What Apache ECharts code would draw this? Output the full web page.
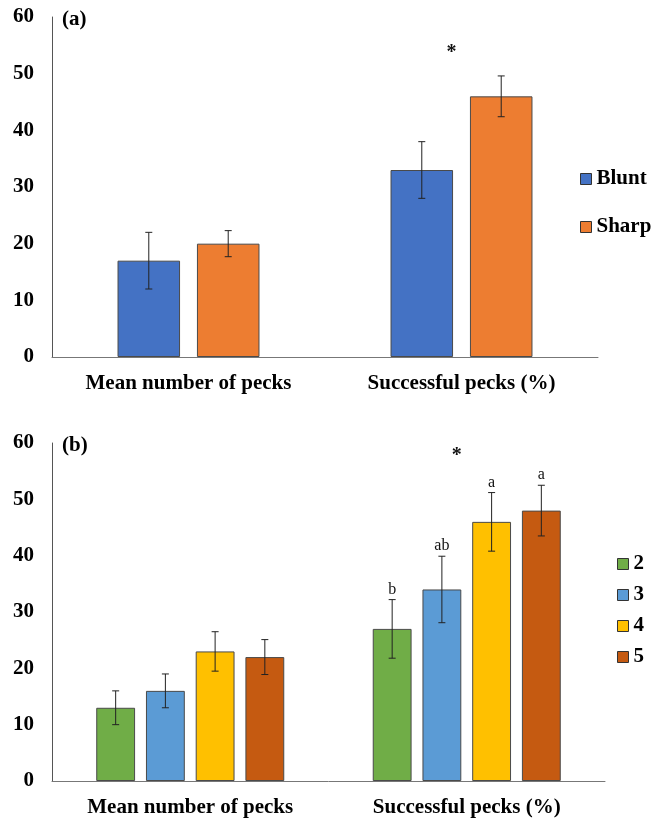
<!DOCTYPE html>
<html><head><meta charset="utf-8">
<script src="https://cdn.jsdelivr.net/npm/echarts@6/dist/echarts.min.js"></script>
<style>html,body{margin:0;padding:0;background:#fff}#c{width:653px;height:821px}</style>
</head><body><div id="c"></div>
<script>
const categories = ['Mean number of pecks', 'Successful pecks (%)'];
const yTicks = [0, 10, 20, 30, 40, 50, 60];
// Panel (a)
const bluntMean = [17, 33];
const bluntErr = [5, 5];
const sharpMean = [20, 46];
const sharpErr = [2.3, 3.6];
const starA = [[1, 54]];
// Panel (b)
const groupNames = ['2', '3', '4', '5'];
const g2Mean = [13, 27], g2Err = [3, 5.2];
const g3Mean = [16, 34], g3Err = [3, 5.9];
const g4Mean = [23, 46], g4Err = [3.5, 5.2];
const g5Mean = [22, 48], g5Err = [3.1, 4.5];
const g2Letters = ['', 'b'];
const g3Letters = ['', 'ab'];
const g4Letters = ['', 'a'];
const g5Letters = ['', 'a'];
const starB = [[1, 58]];

const FONT = '"Liberation Serif", "Times New Roman", serif';
const chart = echarts.init(document.getElementById('c'));

function errSeries(axisIdx, means, errs, k, n, gap, catGap, letters) {
  return {
    type: 'custom', xAxisIndex: axisIdx, yAxisIndex: axisIdx, z: 5, silent: true,
    data: means.map((m, i) => [i, m, errs[i]]),
    renderItem: function (params, api) {
      const ci = api.value(0), m = api.value(1), e = api.value(2);
      const band = api.size([1, 0])[0];
      const bw = band * (1 - catGap) / (n + (n - 1) * gap);
      const c = api.coord([ci, m]);
      const x = c[0] + (k - (n - 1) / 2) * bw * (1 + gap);
      const yT = api.coord([ci, m + e])[1];
      const yB = api.coord([ci, m - e])[1];
      const st = { stroke: '#222', lineWidth: 1 };
      const ch = [
        { type: 'line', shape: { x1: x, y1: yT, x2: x, y2: yB }, style: st },
        { type: 'line', shape: { x1: x - 3.5, y1: yT, x2: x + 3.5, y2: yT }, style: st },
        { type: 'line', shape: { x1: x - 3.5, y1: yB, x2: x + 3.5, y2: yB }, style: st }
      ];
      const lt = letters ? letters[params.dataIndex] : '';
      if (lt) {
        ch.push({ type: 'text', style: { x: x, y: yT - 2, text: lt, fill: '#111',
          font: '16px ' + FONT, align: 'center', verticalAlign: 'bottom' } });
      }
      return { type: 'group', children: ch };
    }
  };
}

function barSeries(name, axisIdx, data, color, gap, catGap) {
  return {
    name: name, type: 'bar', xAxisIndex: axisIdx, yAxisIndex: axisIdx,
    data: data, barGap: gap, barCategoryGap: catGap,
    itemStyle: { color: color, borderColor: '#4a4a4a', borderWidth: 1 }
  };
}

function starSeries(axisIdx, data) {
  return {
    type: 'custom', xAxisIndex: axisIdx, yAxisIndex: axisIdx, silent: true, z: 6, data: data,
    renderItem: function (params, api) {
      const p = api.coord([api.value(0), api.value(1)]);
      return { type: 'text', style: { x: p[0] - 10, y: p[1] + 2, text: '*', fill: '#111',
        font: 'bold 20px ' + FONT, align: 'center', verticalAlign: 'middle' } };
    }
  };
}

const yAx = (gi) => ({
  type: 'value', gridIndex: gi, min: 0, max: 60, interval: 10,
  axisLine: { show: true, lineStyle: { color: '#555', width: 1 } },
  axisTick: { show: false }, splitLine: { show: false },
  axisLabel: { color: '#000', fontFamily: FONT, fontSize: 21, fontWeight: 'bold', margin: 18,
    formatter: v => (yTicks.indexOf(v) >= 0 ? String(v) : '') }
});
const xAx = (gi) => ({
  type: 'category', gridIndex: gi, data: categories,
  axisLine: { show: true, lineStyle: { color: '#777', width: 1 } },
  axisTick: { show: false },
  axisLabel: { color: '#000', fontFamily: FONT, fontSize: 21, fontWeight: 'bold', margin: 16 }
});

const legendCommon = {
  orient: 'vertical', icon: 'rect', itemWidth: 11, itemHeight: 11,
  itemStyle: { borderColor: '#333', borderWidth: 1 },
  textStyle: { color: '#000', fontFamily: FONT, fontSize: 21, fontWeight: 'bold', lineHeight: 22 }
};

chart.setOption({
  animation: false,
  backgroundColor: '#fff',
  title: [
    { text: '(a)', left: 57, top: 4, textStyle: { fontFamily: FONT, fontSize: 21, fontWeight: 'bold', color: '#000' } },
    { text: '(b)', left: 57, top: 430, textStyle: { fontFamily: FONT, fontSize: 21, fontWeight: 'bold', color: '#000' } }
  ],
  grid: [
    { left: 52, top: 17, width: 546, height: 340 },
    { left: 52, top: 443, width: 553, height: 338 }
  ],
  xAxis: [xAx(0), xAx(1)],
  yAxis: [yAx(0), yAx(1)],
  legend: [
    Object.assign({ data: ['Blunt', 'Sharp'], left: 575, top: 163, itemGap: 26 }, legendCommon),
    Object.assign({ data: groupNames, left: 612, top: 548, itemGap: 9 }, legendCommon)
  ],
  series: [
    barSeries('Blunt', 0, bluntMean, '#4472C4', '27%', '48%'),
    barSeries('Sharp', 0, sharpMean, '#ED7D31', '27%', '48%'),
    errSeries(0, bluntMean, bluntErr, 0, 2, 0.27, 0.48, null),
    errSeries(0, sharpMean, sharpErr, 1, 2, 0.27, 0.48, null),
    starSeries(0, starA),
    barSeries('2', 1, g2Mean, '#70AD47', '28%', '32%'),
    barSeries('3', 1, g3Mean, '#5B9BD5', '28%', '32%'),
    barSeries('4', 1, g4Mean, '#FFC000', '28%', '32%'),
    barSeries('5', 1, g5Mean, '#C55A11', '28%', '32%'),
    errSeries(1, g2Mean, g2Err, 0, 4, 0.28, 0.32, g2Letters),
    errSeries(1, g3Mean, g3Err, 1, 4, 0.28, 0.32, g3Letters),
    errSeries(1, g4Mean, g4Err, 2, 4, 0.28, 0.32, g4Letters),
    errSeries(1, g5Mean, g5Err, 3, 4, 0.28, 0.32, g5Letters),
    starSeries(1, starB)
  ]
});
</script>
</body></html>
